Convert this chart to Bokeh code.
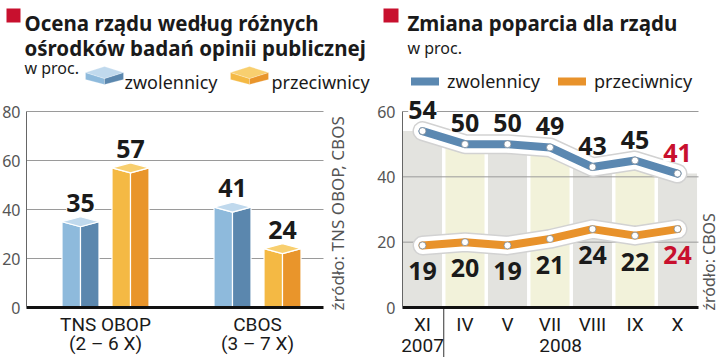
import math
from bokeh.plotting import figure
from bokeh.models import (Range1d, FixedTicker, ColumnDataSource, LabelSet, Label, LinearAxis,
                          BoxAnnotation, PolyAnnotation, Legend, LegendItem)
from bokeh.core.properties import value
from bokeh.layouts import row
from bokeh.embed import file_html
from bokeh.resources import INLINE

# ---------------- data ----------------
survey_names = ["TNS OBOP", "CBOS"]
survey_dates = ["(2 – 6 X)", "(3 – 7 X)"]
support_by_survey = [35, 41]
oppose_by_survey = [57, 24]

month_labels = ["XI", "IV", "V", "VII", "VIII", "IX", "X"]
year_labels = ["2007", "2008"]
support_trend = [54, 50, 50, 49, 43, 45, 41]
oppose_trend = [19, 20, 19, 21, 24, 22, 24]

left_ticks = [0, 20, 40, 60, 80]
right_ticks = [0, 20, 40, 60]

series_names = ["zwolennicy", "przeciwnicy"]
left_title = ["Ocena rządu według różnych", "ośrodków badań opinii publicznej"]
right_title = "Zmiana poparcia dla rządu"
unit_text = "w proc."
left_source = "źródło: TNS OBOP, CBOS"
right_source = "źródło: CBOS"

# ---------------- style / geometry ----------------
FONT = "Noto Sans"
CAT_FONT = "Roboto"
INK = "#1a1a1a"
RED = "#c8102e"
AXIS_TXT = "#555555"
GRID = "#9a9a9a"
BLUE3 = ("#8ebadc", "#5b87ae", "#c0d9ed")
ORANGE3 = ("#f4b944", "#e9952b", "#f8cf6f")
BLUE_LINE = "#5b88b1"
ORANGE_LINE = "#e8922b"
COL_GRAY = "#e3e3df"
COL_YELLOW = "#f2f2da"
CAT_SIZE = "19px"
TITLE_SIZE = "20.5px"

H = 357
ZERO_Y = 307            # canvas y of value 0
# left panel (canvas x 0..370)
L_W = 370
L_PX_Y = 196 / 80
L_GROUP_PX = 152
L_FIRST_CX = 105
L_AXIS_CX = 26
L_GRID_END_CX = 323
# right panel (canvas x 370..720)
R_OFF = 370
R_W = 350
R_PX_Y = 196 / 60
R_STEP_PX = 42.5
R_FIRST_CX = 422 - R_OFF
R_AXIS_CX = 402 - R_OFF
R_GRID_END_CX = 698 - R_OFF


def scr(cx, cy, off=0):
    """canvas pixel -> screen units of a figure whose frame fills its canvas"""
    return cx - off, H - cy


def make_fig(w, first_cx, step, px_y):
    xs = -first_cx / step
    return figure(width=w, height=H,
                  x_range=Range1d(xs, xs + w / step),
                  y_range=Range1d(-(H - ZERO_Y) / px_y, ZERO_Y / px_y),
                  output_backend="svg", toolbar_location=None,
                  x_axis_location=None, y_axis_location=None,
                  min_border=0, outline_line_color=None,
                  border_fill_color="white", background_fill_color="white")


def add_axes(p, axis_x, grid_end_x, yticks, xticks, xlabels, standoff):
    ya = LinearAxis(fixed_location=axis_x, ticker=FixedTicker(ticks=yticks),
                    bounds=(yticks[0], yticks[-1]))
    ya.axis_line_color = "#666666"
    ya.major_tick_line_color = None
    ya.minor_tick_line_color = None
    ya.major_tick_out = 0
    ya.major_tick_in = 0
    ya.major_label_standoff = standoff
    ya.major_label_text_font = FONT
    ya.major_label_text_font_size = "16px"
    ya.major_label_text_color = AXIS_TXT
    p.add_layout(ya, "left")

    xa = LinearAxis(fixed_location=0, ticker=FixedTicker(ticks=xticks),
                    bounds=(axis_x, grid_end_x))
    xa.major_label_overrides = {t: s for t, s in zip(xticks, xlabels)}
    xa.axis_line_color = "#111111"
    xa.axis_line_width = 3
    xa.major_tick_line_color = None
    xa.minor_tick_line_color = None
    xa.major_tick_out = 0
    xa.major_tick_in = 0
    xa.major_label_standoff = 5
    xa.major_label_text_font = CAT_FONT
    xa.major_label_text_font_size = CAT_SIZE
    xa.major_label_text_color = INK
    p.add_layout(xa, "below")
    p.xgrid.visible = False
    p.ygrid.visible = False


def add_gridlines(p, axis_x, grid_end_x, yticks):
    g = yticks[1:]
    p.segment(x0=[axis_x] * len(g), x1=[grid_end_x] * len(g), y0=g, y1=g,
              line_color=GRID, line_width=1)


# =============== LEFT FIGURE ===============
p1 = make_fig(L_W, L_FIRST_CX, L_GROUP_PX, L_PX_Y)
l_axis_x = (L_AXIS_CX - L_FIRST_CX) / L_GROUP_PX
l_grid_end = (L_GRID_END_CX - L_FIRST_CX) / L_GROUP_PX
add_gridlines(p1, l_axis_x, l_grid_end, left_ticks)

bar_half = 18.5 / L_GROUP_PX
bar_off = 25 / L_GROUP_PX
cap = 5 / L_PX_Y
lx, ly, lc, rx, ry, rc, tx, ty, tc = [], [], [], [], [], [], [], [], []
lab_x, lab_y, lab_t = [], [], []
for i in range(len(survey_names)):
    for val, off, pal in ((support_by_survey[i], -bar_off, BLUE3),
                          (oppose_by_survey[i], bar_off, ORANGE3)):
        xc = i + off
        x0, x1 = xc - bar_half, xc + bar_half
        lx.append([x0, x0, xc, xc]); ly.append([0, val, val - cap, 0]); lc.append(pal[0])
        rx.append([xc, xc, x1, x1]); ry.append([0, val - cap, val, 0]); rc.append(pal[1])
        tx.append([x0, xc, x1, xc]); ty.append([val, val + cap, val, val - cap]); tc.append(pal[2])
        lab_x.append(xc); lab_y.append(val + cap); lab_t.append(str(val))

p1.patches(lx, ly, fill_color=lc, line_color="white", line_width=1.2)
p1.patches(rx, ry, fill_color=rc, line_color="white", line_width=1.2)
p1.patches(tx, ty, fill_color=tc, line_color="white", line_width=1.2)

add_axes(p1, l_axis_x, l_grid_end, left_ticks, list(range(len(survey_names))), survey_names, 6)

src_l = ColumnDataSource(dict(x=lab_x, y=lab_y, t=lab_t))
p1.add_layout(LabelSet(x="x", y="y", text="t", source=src_l, y_offset=5,
                       text_align="center", text_baseline="alphabetic",
                       text_font=value(FONT), text_font_style="bold",
                       text_font_size="25px", text_color=INK,
                       background_fill_color="white"))

l_row2_y = -(343 - ZERO_Y) / L_PX_Y
p1.text(x=list(range(len(survey_dates))), y=[l_row2_y] * len(survey_dates), text=survey_dates,
        text_align="center", text_baseline="middle", text_font=value(CAT_FONT),
        text_font_size=CAT_SIZE, text_color=INK)

# titles / legend (left)
bx0, by0 = scr(6, 8)
bx1, by1 = scr(20, 22)
p1.add_layout(BoxAnnotation(left=bx0, right=bx1, top=by0, bottom=by1,
                            left_units="screen", right_units="screen",
                            top_units="screen", bottom_units="screen",
                            fill_color=RED, fill_alpha=1, line_color=None))
for line, base in zip(left_title, (22, 47)):
    sx, sy = scr(24, base)
    p1.add_layout(Label(x=sx, y=sy, x_units="screen", y_units="screen", text=line,
                        text_font=FONT, text_font_style="bold", text_font_size=TITLE_SIZE,
                        text_color=INK, text_baseline="alphabetic"))
sx, sy = scr(24, 67)
p1.add_layout(Label(x=sx, y=sy, x_units="screen", y_units="screen", text=unit_text,
                    text_font=FONT, text_font_size="16px", text_color=INK,
                    text_baseline="alphabetic"))


def box_icon(cx0, pal):
    w = 38
    xm = cx0 + w / 2
    xr = cx0 + w
    shapes = [
        ([cx0, xm, xm, cx0], [72, 78, 84, 79], pal[0]),
        ([xm, xr, xr, xm], [78, 72, 79, 84], pal[1]),
        ([cx0, xm, xr, xm], [72, 66, 72, 78], pal[2]),
    ]
    out = []
    for xs, ys, col in shapes:
        pts = [scr(a, b) for a, b in zip(xs, ys)]
        out.append(PolyAnnotation(xs=[q[0] for q in pts], ys=[q[1] for q in pts],
                                  xs_units="screen", ys_units="screen",
                                  fill_color=col, fill_alpha=1, line_color="white",
                                  line_width=0.8))
    return out


for ann in box_icon(85, BLUE3) + box_icon(230, ORANGE3):
    p1.add_layout(ann)
for name, cx in zip(series_names, (124, 271)):
    sx, sy = scr(cx, 81)
    p1.add_layout(Label(x=sx, y=sy, x_units="screen", y_units="screen", text=name,
                        text_font=FONT, text_font_size="18px", text_color=INK,
                        text_baseline="alphabetic"))
sx, sy = scr(337, 310)
p1.add_layout(Label(x=sx, y=sy, x_units="screen", y_units="screen", text=left_source,
                    angle=math.pi / 2, text_font=FONT, text_font_size="17px",
                    text_color="#555555", text_baseline="middle", text_align="left"))

# =============== RIGHT FIGURE ===============
p2 = make_fig(R_W, R_FIRST_CX, R_STEP_PX, R_PX_Y)
r_axis_x = (R_AXIS_CX - R_FIRST_CX) / R_STEP_PX
r_grid_end = (R_GRID_END_CX - R_FIRST_CX) / R_STEP_PX
idx = list(range(len(month_labels)))

col_colors = [COL_GRAY if i % 2 == 0 else COL_YELLOW for i in idx]
p2.vbar(x=idx, top=support_trend, bottom=0, width=0.92, fill_color=col_colors, line_color=None)
add_gridlines(p2, r_axis_x, r_grid_end, right_ticks)

lines = {}
for key, vals, col in (("s", support_trend, BLUE_LINE), ("o", oppose_trend, ORANGE_LINE)):
    p2.line(idx, vals, line_width=20, line_color="#d2d2d2", line_join="round", line_cap="round")
    p2.line(idx, vals, line_width=17, line_color="white", line_join="round", line_cap="round")
    lines[key] = p2.line(idx, vals, line_width=8, line_color=col, line_join="round", line_cap="round")
    p2.scatter(idx, vals, size=7, fill_color="white", line_color="#7d8b99", line_width=0.8)

add_axes(p2, r_axis_x, r_grid_end, right_ticks, idx, month_labels, 7)

# separator between 2007 and 2008 below the axis
r_bottom = -(H - ZERO_Y) / R_PX_Y
sep_x = (idx[0] + idx[1]) / 2
p2.segment(x0=[sep_x], x1=[sep_x], y0=[0], y1=[r_bottom], line_color="#333333", line_width=1)

lab_colors = [INK] * (len(idx) - 1) + [RED]
src_s = ColumnDataSource(dict(x=idx, y=support_trend, t=[str(v) for v in support_trend], c=lab_colors))
src_o = ColumnDataSource(dict(x=idx, y=oppose_trend, t=[str(v) for v in oppose_trend], c=lab_colors))
p2.add_layout(LabelSet(x="x", y="y", text="t", source=src_s, y_offset=12,
                       text_align="center", text_baseline="alphabetic",
                       text_font=value(FONT), text_font_style="bold",
                       text_font_size="25px", text_color="c",
                       background_fill_color="white"))
p2.add_layout(LabelSet(x="x", y="y", text="t", source=src_o, y_offset=-35,
                       text_align="center", text_baseline="alphabetic",
                       text_font=value(FONT), text_font_style="bold",
                       text_font_size="25px", text_color="c"))

# year row: 2007 under XI, 2008 under IV..X
r_row2_y = -(344.5 - ZERO_Y) / R_PX_Y
year_x = [idx[0], (idx[1] + idx[-1]) / 2 - 0.25]
p2.text(x=year_x, y=[r_row2_y] * 2, text=year_labels, text_align="center",
        text_baseline="middle", text_font=value(CAT_FONT), text_font_size=CAT_SIZE,
        text_color=INK)

legend = Legend(items=[LegendItem(label=series_names[0], renderers=[lines["s"]]),
                       LegendItem(label=series_names[1], renderers=[lines["o"]])],
                orientation="horizontal", location=(411 - R_OFF, H - 93),
                glyph_width=28, glyph_height=12, label_height=20, label_standoff=8,
                spacing=18, padding=0, margin=0, background_fill_alpha=0,
                border_line_color=None, label_text_font=FONT,
                label_text_font_size="18px", label_text_color=INK)
p2.add_layout(legend)

bx0, by0 = scr(383, 8, R_OFF)
bx1, by1 = scr(398, 22, R_OFF)
p2.add_layout(BoxAnnotation(left=bx0, right=bx1, top=by0, bottom=by1,
                            left_units="screen", right_units="screen",
                            top_units="screen", bottom_units="screen",
                            fill_color=RED, fill_alpha=1, line_color=None))
sx, sy = scr(407, 22, R_OFF)
p2.add_layout(Label(x=sx, y=sy, x_units="screen", y_units="screen", text=right_title,
                    text_font=FONT, text_font_style="bold", text_font_size=TITLE_SIZE,
                    text_color=INK, text_baseline="alphabetic"))
sx, sy = scr(407, 47, R_OFF)
p2.add_layout(Label(x=sx, y=sy, x_units="screen", y_units="screen", text=unit_text,
                    text_font=FONT, text_font_size="16px", text_color=INK,
                    text_baseline="alphabetic"))
sx, sy = scr(708, 310, R_OFF)
p2.add_layout(Label(x=sx, y=sy, x_units="screen", y_units="screen", text=right_source,
                    angle=math.pi / 2, text_font=FONT, text_font_size="16px",
                    text_color="#555555", text_baseline="middle", text_align="left"))

layout = row(p1, p2)
open("out.html", "w").write(file_html(layout, INLINE))
